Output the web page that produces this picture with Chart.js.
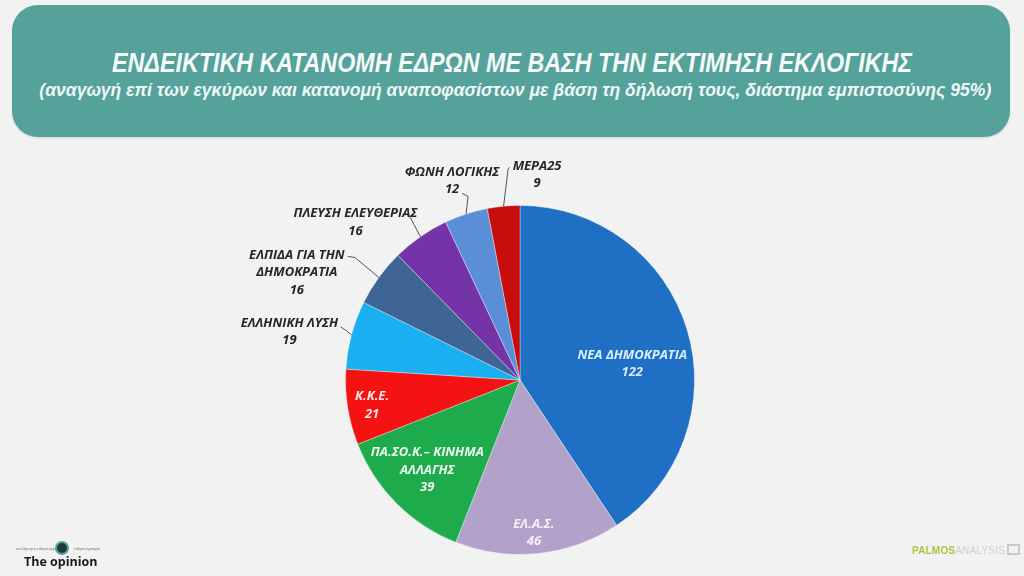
<!DOCTYPE html>
<html>
<head>
<meta charset="utf-8">
<script src="https://cdn.jsdelivr.net/npm/chart.js@4"></script>
<style>
  html, body { margin: 0; padding: 0; }
  body { width: 1024px; height: 576px; background: #f2f2f2; position: relative; overflow: hidden; font-family: "Liberation Sans", Arial, sans-serif; }
  #header { position: absolute; left: 12px; top: 5px; width: 998px; height: 132px; background: #55a29b; border-radius: 26px; box-shadow: 0 1px 2px rgba(0,0,0,0.12); }
  .hl { position: absolute; left: 0; width: 1024px; text-align: center; color: #f4fbfa; font-style: italic; white-space: nowrap; }
  .hl span { display: inline-block; transform-origin: center center; }
  #t1 { top: 48px; font-size: 27px; font-weight: bold; }
  #t2 { top: 79px; font-size: 19px; font-weight: bold; color: #eef8f6; }
  #wrap { position: absolute; left: 0; top: 0; width: 1024px; height: 576px; }
  #logoL { position: absolute; left: 24px; top: 553px; font: bold 12.5px "Open Sans", sans-serif; color: #1a1a1a; }
  #logoDot { position: absolute; left: 55px; top: 541px; width: 10px; height: 10px; border-radius: 50%; background: #1d3b3a; border: 2px solid #4fa69c; }
  .tiny { position: absolute; top: 546px; font: 4px sans-serif; color: #777; }
  #logoR { position: absolute; left: 912px; top: 544px; font: bold 10px "Liberation Sans", sans-serif; letter-spacing: 0.2px; }
  #logoR .p { color: #a9c53c; }
  #logoR .a { color: #cfcfcf; font-weight: normal; }
  #logoR .box { display: inline-block; width: 9px; height: 7px; border: 2px solid #c8c8c8; margin-left: 2px; vertical-align: -1px; }
</style>
</head>
<body>
<div id="header"></div>
<div class="hl" id="t1"><span>ΕΝΔΕΙΚΤΙΚΗ ΚΑΤΑΝΟΜΗ ΕΔΡΩΝ ΜΕ ΒΑΣΗ ΤΗΝ ΕΚΤΙΜΗΣΗ ΕΚΛΟΓΙΚΗΣ</span></div>
<div class="hl" id="t2"><span>(αναγωγή επί των εγκύρων και κατανομή αναποφασίστων με βάση τη δήλωσή τους, διάστημα εμπιστοσύνης 95%)</span></div>
<div id="wrap"><canvas id="c" width="1024" height="576"></canvas></div>
<div class="tiny" style="left:16px">ανεξάρτητη ειδησεογραφία</div>
<div id="logoDot"></div>
<div class="tiny" style="left:74px">ειδησεογραφία</div>
<div id="logoL">The opinion</div>
<div id="logoR"><span class="p">PALMOS</span><span class="a">ANALYSIS</span><span class="box"></span></div>
<script>
// ---- data ----
const categories = ['ΝΕΑ ΔΗΜΟΚΡΑΤΙΑ', 'ΕΛ.Α.Σ.', 'ΠΑ.ΣΟ.Κ.– ΚΙΝΗΜΑ ΑΛΛΑΓΗΣ', 'Κ.Κ.Ε.', 'ΕΛΛΗΝΙΚΗ ΛΥΣΗ', 'ΕΛΠΙΔΑ ΓΙΑ ΤΗΝ ΔΗΜΟΚΡΑΤΙΑ', 'ΠΛΕΥΣΗ ΕΛΕΥΘΕΡΙΑΣ', 'ΦΩΝΗ ΛΟΓΙΚΗΣ', 'ΜΕΡΑ25'];
const categoryLines = [['ΝΕΑ ΔΗΜΟΚΡΑΤΙΑ'], ['ΕΛ.Α.Σ.'], ['ΠΑ.ΣΟ.Κ.– ΚΙΝΗΜΑ', 'ΑΛΛΑΓΗΣ'], ['Κ.Κ.Ε.'], ['ΕΛΛΗΝΙΚΗ ΛΥΣΗ'], ['ΕΛΠΙΔΑ ΓΙΑ ΤΗΝ', 'ΔΗΜΟΚΡΑΤΙΑ'], ['ΠΛΕΥΣΗ ΕΛΕΥΘΕΡΙΑΣ'], ['ΦΩΝΗ ΛΟΓΙΚΗΣ'], ['ΜΕΡΑ25']];
const seats = [122, 46, 39, 21, 19, 16, 16, 12, 9];

// ---- styles ----
const sliceColors = ['#1f6fc4', '#b2a1c9', '#1dab4b', '#f51212', '#19aff0', '#3f6596', '#7433a6', '#5a8fd8', '#c80d0d'];
const textColors = ['#d9efff', '#f4f0fa', '#eefaf0', '#ffe8e8', '#262626', '#262626', '#262626', '#262626', '#262626'];
// inside: radius ratio + angle tweak (deg); outside: leader elbow/end and text offsets from slice edge anchor
const labelSpec = [
  { inside: true, r: 0.65, da: 8.7 },
  { inside: true, r: 0.88, da: 0.8 },
  { inside: true, r: 0.74, da: 0.9 },
  { inside: true, r: 0.86, da: -0.7 },
  { inside: false, e: [-5, -4], f: [-11, -8], t: [-62, -3] },
  { inside: false, e: [-24, -20], f: [-31, -21], t: [-82, -5] },
  { inside: false, e: [-10, -19], f: [-13, -21], t: [-65, -14.5] },
  { inside: false, e: [2, -17.6], f: [-4, -20.6], t: [-14, -33] },
  { inside: false, e: [4.5, -37], f: [6, -39], t: [33.5, -31.3] }
];
const lineH = 17.5;

function fitText(id, target) {
  const s = document.querySelector('#' + id + ' span');
  const w = s.getBoundingClientRect().width;
  s.style.transform = 'scaleX(' + (target / w) + ')';
}
fitText('t1', 800);
fitText('t2', 952);

const labelPlugin = {
  id: 'sliceLabels',
  afterDatasetsDraw(chart) {
    const ctx = chart.ctx;
    const meta = chart.getDatasetMeta(0);
    ctx.save();
    ctx.font = 'italic 700 13px "Open Sans", sans-serif';
    ctx.textAlign = 'center';
    ctx.textBaseline = 'middle';
    meta.data.forEach((arc, i) => {
      const p = arc.getProps(['x', 'y', 'startAngle', 'endAngle', 'outerRadius'], true);
      const mid = (p.startAngle + p.endAngle) / 2;
      const spec = labelSpec[i];
      const lines = categoryLines[i].concat([String(seats[i])]);
      let cx, cy;
      if (spec.inside) {
        const a = mid + spec.da * Math.PI / 180;
        const r = p.outerRadius * spec.r;
        cx = p.x + r * Math.cos(a);
        cy = p.y + r * Math.sin(a);
      } else {
        const ax = p.x + p.outerRadius * Math.cos(mid);
        const ay = p.y + p.outerRadius * Math.sin(mid);
        ctx.strokeStyle = '#555';
        ctx.lineWidth = 1;
        ctx.beginPath();
        ctx.moveTo(ax, ay);
        ctx.lineTo(ax + spec.e[0], ay + spec.e[1]);
        ctx.lineTo(ax + spec.f[0], ay + spec.f[1]);
        ctx.stroke();
        cx = ax + spec.t[0];
        cy = ay + spec.t[1];
      }
      ctx.fillStyle = textColors[i];
      const y0 = cy - (lines.length - 1) * lineH / 2;
      lines.forEach((ln, k) => ctx.fillText(ln, cx, y0 + k * lineH));
    });
    ctx.restore();
  }
};

new Chart(document.getElementById('c'), {
  type: 'pie',
  data: {
    labels: categories,
    datasets: [{
      data: seats,
      backgroundColor: sliceColors,
      borderColor: 'rgba(255,255,255,0.35)',
      borderWidth: 1
    }]
  },
  options: {
    responsive: false,
    animation: false,
    layout: { padding: { left: 345, right: 329, top: 205, bottom: 21 } },
    plugins: { legend: { display: false }, tooltip: { enabled: false }, title: { display: false } }
  },
  plugins: [labelPlugin]
});
</script>
</body>
</html>
